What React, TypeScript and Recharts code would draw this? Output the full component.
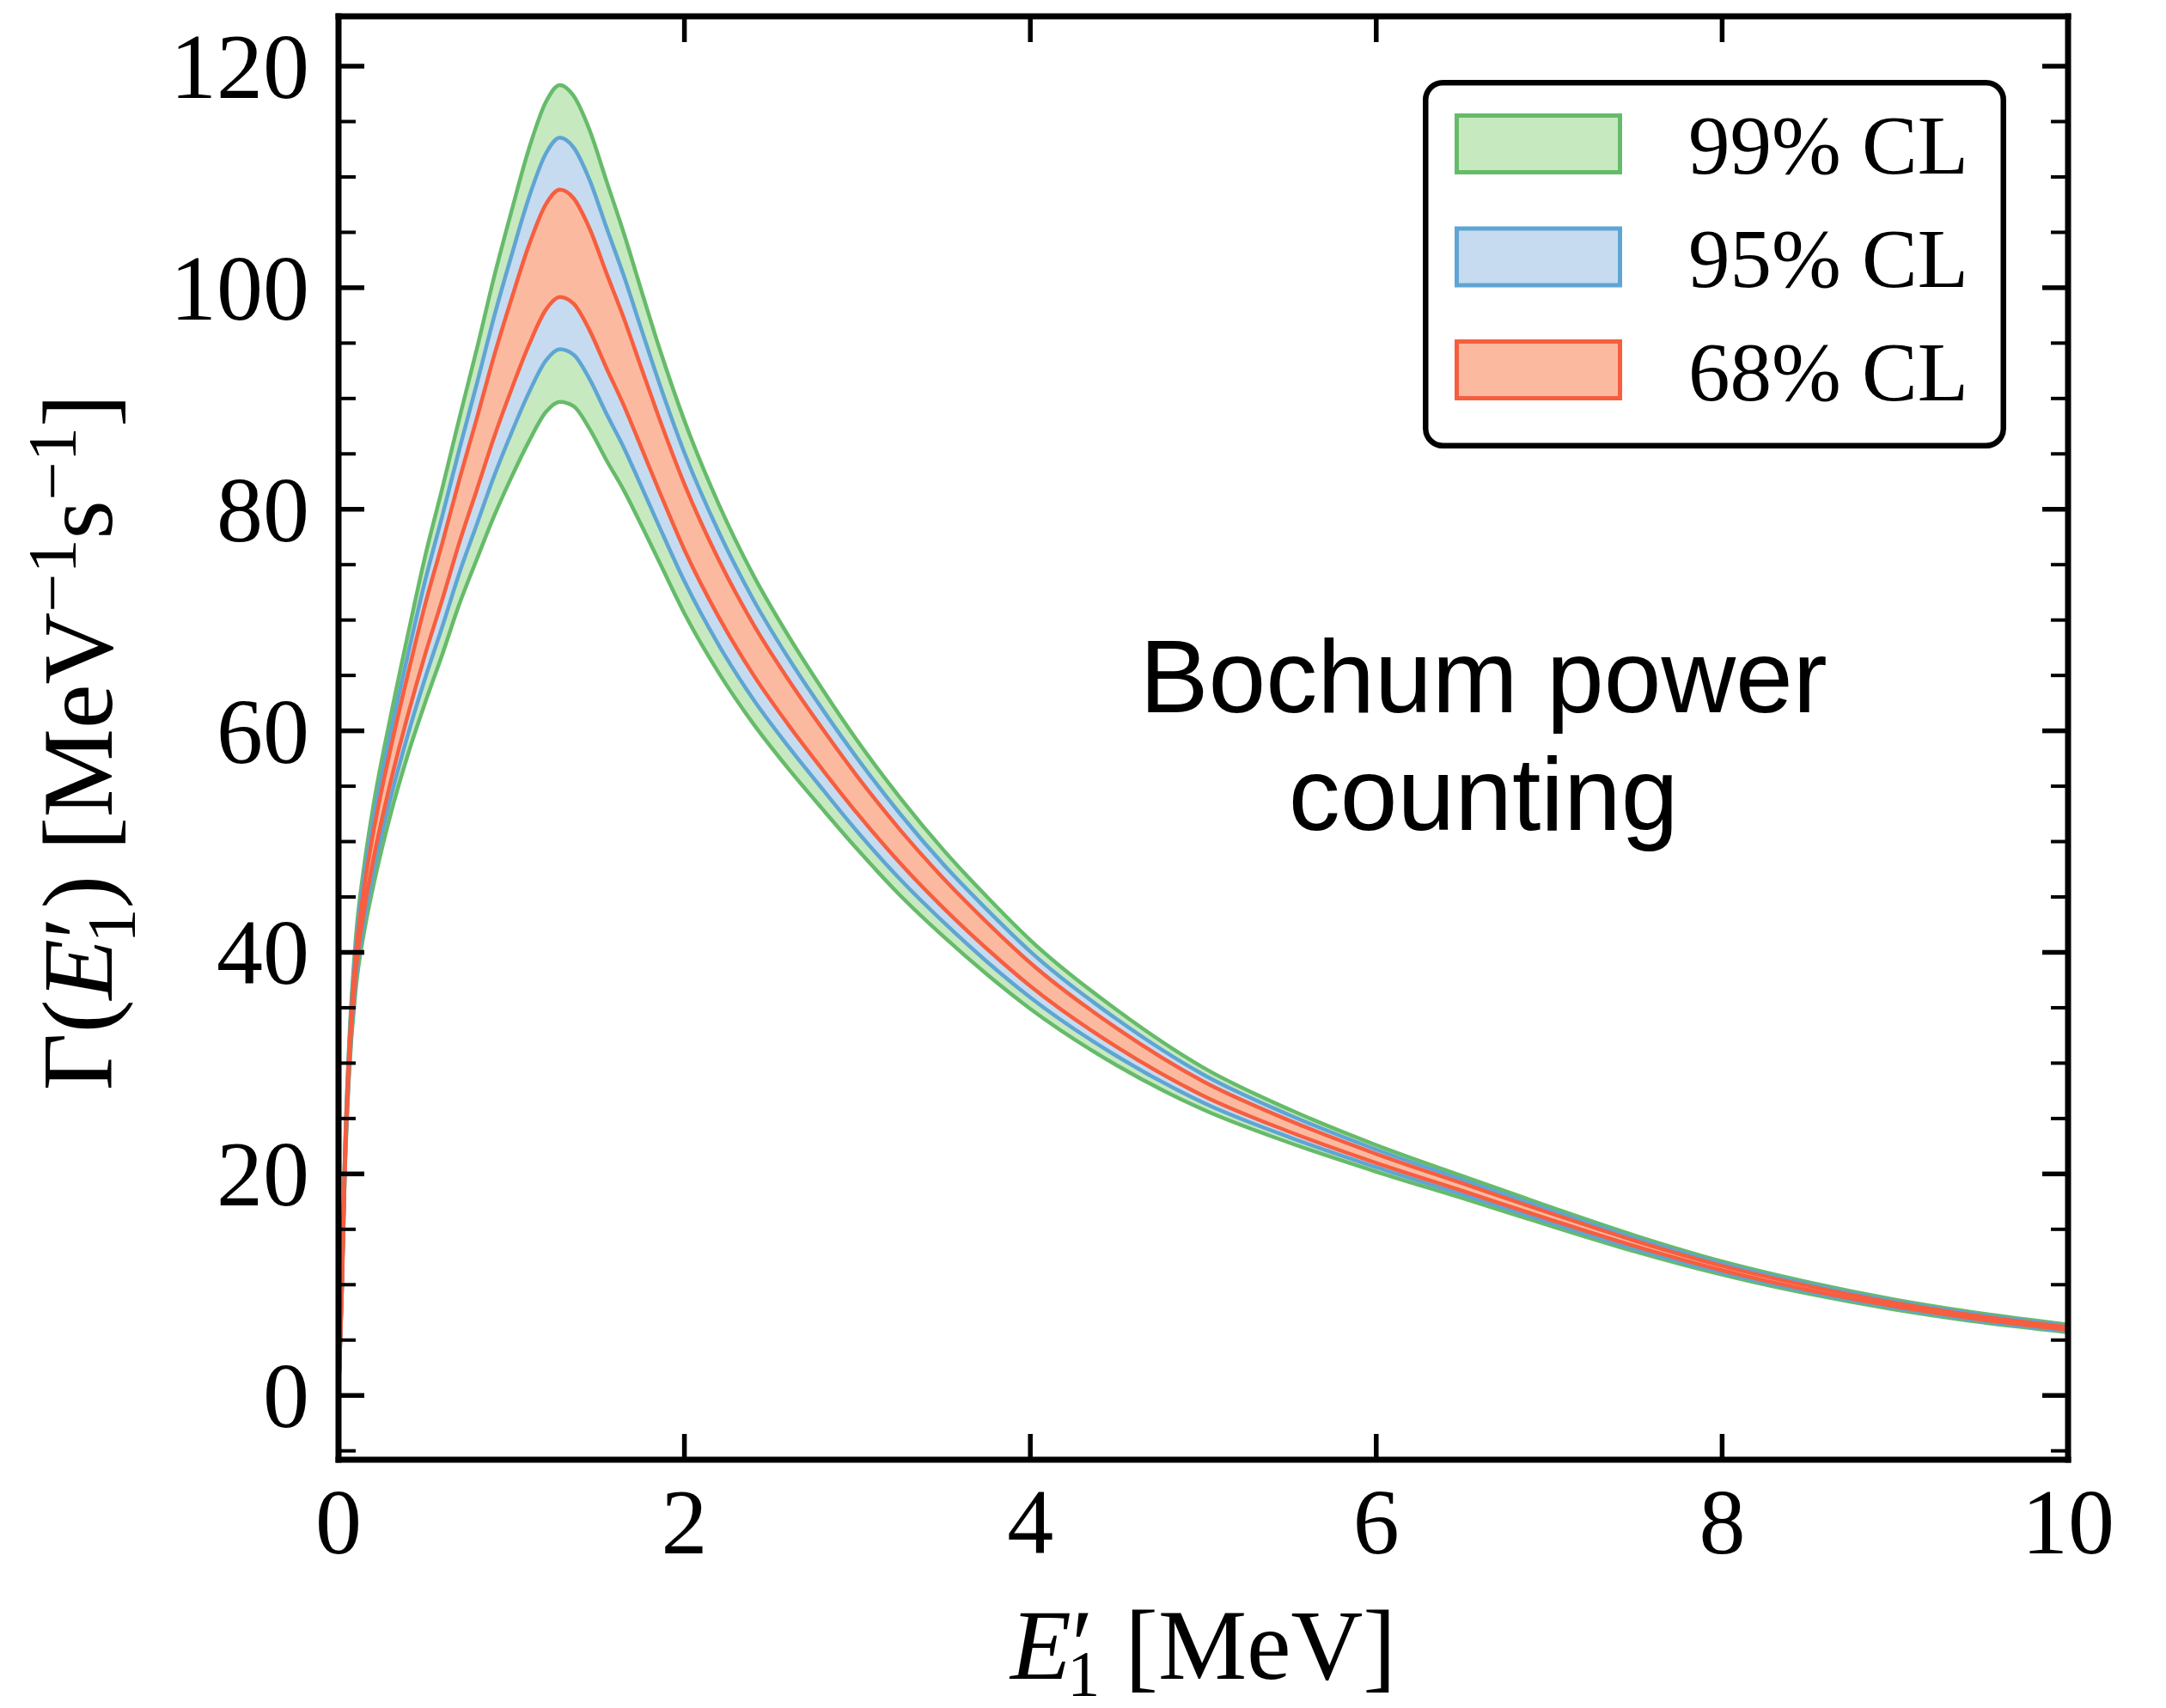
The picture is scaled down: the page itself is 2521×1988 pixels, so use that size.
import {
  ComposedChart,
  Area,
  XAxis,
  YAxis,
  Legend,
  Label,
  ReferenceDot,
} from "recharts";

// photon energy E'_1 in MeV
const ENERGY = [
  0, 0.02, 0.035, 0.06, 0.1, 0.15, 0.2, 0.3, 0.4, 0.5, 0.6, 0.7, 0.8, 0.9, 1.0,
  1.1, 1.2, 1.28, 1.36, 1.45, 1.55, 1.65, 1.75, 1.85, 2.0, 2.2, 2.4, 2.6, 2.8,
  3.0, 3.25, 3.5, 3.75, 4.0, 4.5, 5.0, 5.5, 6.0, 6.5, 7.0, 7.5, 8.0, 8.5, 9.0,
  9.5, 10,
];

// middle of the bands
const CENTRAL = [
  0, 10, 20, 30, 39, 45, 49.5, 56.8, 63.2, 69.1, 74.4, 79.9, 85, 90.2, 94.9,
  99.3, 102.8, 104, 103.3, 100.8, 97, 93.3, 89.2, 85.1, 79.3, 72.8, 67.3, 62.6,
  58.3, 54.2, 49.5, 45.3, 41.5, 38, 32.3, 27.7, 24.3, 21.4, 18.8, 16.2, 13.7,
  11.5, 9.7, 8.2, 7, 6.05,
];

// half widths of the three bands
const HALF_99 = [
  0, 0.5, 0.9, 1.4, 2.3, 3.0, 3.6, 4.4, 5.4, 6.6, 7.5, 8.4, 9.5, 10.8, 12.0,
  13.2, 14.0, 14.3, 14.0, 13.5, 12.6, 11.6, 10.6, 9.7, 8.7, 7.6, 6.7, 6.0, 5.4,
  4.9, 4.4, 3.9, 3.5, 3.1, 2.5, 1.9, 1.5, 1.2, 1.0, 0.85, 0.72, 0.6, 0.52, 0.45,
  0.4, 0.35,
];
const HALF_95 = [
  0, 0.33, 0.6, 0.94, 1.54, 2.0, 2.4, 2.94, 3.6, 4.4, 5.0, 5.6, 6.35, 7.2, 8.0,
  8.8, 9.35, 9.55, 9.35, 9.0, 8.4, 7.75, 7.1, 6.5, 5.8, 5.1, 4.5, 4.0, 3.6, 3.3,
  2.95, 2.6, 2.35, 2.07, 1.67, 1.27, 1.0, 0.8, 0.67, 0.57, 0.48, 0.4, 0.35, 0.3,
  0.27, 0.23,
];
const HALF_68 = [
  0, 0.17, 0.3, 0.48, 0.78, 1.02, 1.22, 1.5, 1.84, 2.25, 2.55, 2.85, 3.23,
  3.67, 4.08, 4.5, 4.76, 4.85, 4.76, 4.6, 4.28, 3.94, 3.6, 3.3, 2.96, 2.58,
  2.28, 2.04, 1.84, 1.67, 1.5, 1.33, 1.19, 1.05, 0.85, 0.65, 0.51, 0.41, 0.34,
  0.29, 0.24, 0.2, 0.18, 0.15, 0.14, 0.12,
];

const X_TICKS = [0, 2, 4, 6, 8, 10];
const Y_TICKS = [
  -5, 0, 5, 10, 15, 20, 25, 30, 35, 40, 45, 50, 55, 60, 65, 70, 75, 80, 85, 90,
  95, 100, 105, 110, 115, 120,
];

const BANDS = [
  { key: "cl99", name: "99% CL", stroke: "#66bb6a", fill: "#c7e9c0" },
  { key: "cl95", name: "95% CL", stroke: "#5fa5d3", fill: "#c6dbef" },
  { key: "cl68", name: "68% CL", stroke: "#f65e3f", fill: "#fbbaa0" },
];

const rows = ENERGY.map((e, i) => ({
  e,
  cl99: [CENTRAL[i] - HALF_99[i], CENTRAL[i] + HALF_99[i]],
  cl95: [CENTRAL[i] - HALF_95[i], CENTRAL[i] + HALF_95[i]],
  cl68: [CENTRAL[i] - HALF_68[i], CENTRAL[i] + HALF_68[i]],
}));

const SERIF = "'Liberation Serif', 'DejaVu Serif', serif";
const SANS = "'Liberation Sans', Arial, sans-serif";
const MAJOR = 30;
const MINOR = 20;

function LeftTick({ x, y, payload }: any) {
  const major = payload.value % 20 === 0;
  return (
    <g>
      <line x1={x} x2={x + (major ? MAJOR : MINOR)} y1={y} y2={y} stroke="#000" strokeWidth={major ? 5.5 : 4} />
      {major && (
        <text x={x - 34} y={y + 37} textAnchor="end" fontSize={108} fontFamily={SERIF} fill="#000">
          {payload.value}
        </text>
      )}
    </g>
  );
}

function RightTick({ x, y, payload }: any) {
  const major = payload.value % 20 === 0;
  return (
    <line x1={x} x2={x - (major ? MAJOR : MINOR)} y1={y} y2={y} stroke="#000" strokeWidth={major ? 5.5 : 4} />
  );
}

function BottomTick({ x, y, payload }: any) {
  return (
    <g>
      <line x1={x} x2={x} y1={y} y2={y - MAJOR} stroke="#000" strokeWidth={5.5} />
      <text x={x} y={y + 109} textAnchor="middle" fontSize={108} fontFamily={SERIF} fill="#000">
        {payload.value}
      </text>
    </g>
  );
}

function TopTick({ x, y }: any) {
  return <line x1={x} x2={x} y1={y} y2={y + MAJOR} stroke="#000" strokeWidth={5.5} />;
}

function XTitle({ viewBox }: any) {
  const cx = viewBox.x + viewBox.width / 2;
  const cy = viewBox.y + 255;
  return (
    <text x={cx} y={cy} textAnchor="middle" fontSize={116} fontFamily={SERIF} fill="#000">
      <tspan fontStyle="italic">E</tspan>
      <tspan>′</tspan>
      <tspan dx={-30} dy={20} fontSize={76}>1</tspan>
      <tspan dy={-20}> [MeV]</tspan>
    </text>
  );
}

function YTitle({ viewBox }: any) {
  const cx = viewBox.x + 130;
  const cy = viewBox.y + viewBox.height / 2 + 5;
  return (
    <text
      transform={`translate(${cx},${cy}) rotate(-90)`}
      textAnchor="middle"
      fontSize={116}
      fontFamily={SERIF}
      fill="#000"
    >
      <tspan>Γ(</tspan>
      <tspan fontStyle="italic">E</tspan>
      <tspan>′</tspan>
      <tspan dx={-30} dy={27} fontSize={80}>1</tspan>
      <tspan dy={-27}>) [MeV</tspan>
      <tspan dy={-42} fontSize={80}>−1</tspan>
      <tspan dy={42}>s</tspan>
      <tspan dy={-42} fontSize={80}>−1</tspan>
      <tspan dy={42}>]</tspan>
    </text>
  );
}

function Annotation({ viewBox }: any) {
  const x = viewBox.x + viewBox.width / 2;
  const y = viewBox.y + viewBox.height / 2;
  return (
    <text textAnchor="middle" fontSize={120} fontFamily={SANS} fill="#000">
      <tspan x={x} y={y}>Bochum power</tspan>
      <tspan x={x} y={y + 137}>counting</tspan>
    </text>
  );
}

function LegendBox() {
  return (
    <svg width={679} height={429} style={{ display: "block" }}>
      <rect x={3.25} y={3.25} width={672.5} height={422.5} rx={20} fill="#fff" stroke="#000" strokeWidth={6.5} />
      {BANDS.map((b, i) => (
        <g key={b.key}>
          <rect x={39.5} y={41.5 + i * 131.5} width={190} height={66} fill={b.fill} stroke={b.stroke} strokeWidth={5} />
          <text x={309} y={109 + i * 132} fontSize={97} fontFamily={SERIF} fill="#000">
            {b.name}
          </text>
        </g>
      ))}
    </svg>
  );
}

export default function App() {
  return (
    <div style={{ width: 2521, height: 1988, background: "#fff" }}>
      <style>{`body{margin:0;}`}</style>
      <ComposedChart
        width={2521}
        height={1988}
        data={rows}
        margin={{ top: 18, right: 113, bottom: 0, left: 0 }}
      >
        <XAxis
          dataKey="e"
          type="number"
          domain={[0, 10]}
          ticks={X_TICKS}
          interval={0}
          height={289}
          tickSize={0}
          tickMargin={0}
          tick={BottomTick}
          axisLine={{ stroke: "#000", strokeWidth: 7, strokeLinecap: "square" }}
          tickLine={false}
        >
          <Label content={XTitle} />
        </XAxis>
        <XAxis
          xAxisId="top"
          orientation="top"
          dataKey="e"
          type="number"
          domain={[0, 10]}
          ticks={X_TICKS}
          interval={0}
          height={1}
          tickSize={0}
          tickMargin={0}
          tick={TopTick}
          axisLine={{ stroke: "#000", strokeWidth: 7, strokeLinecap: "square" }}
          tickLine={false}
        />
        <YAxis
          type="number"
          domain={[-5.8, 124.5]}
          ticks={Y_TICKS}
          interval={0}
          width={394}
          tickSize={0}
          tickMargin={0}
          tick={LeftTick}
          allowDataOverflow
          axisLine={{ stroke: "#000", strokeWidth: 7, strokeLinecap: "square" }}
          tickLine={false}
        >
          <Label content={YTitle} />
        </YAxis>
        <YAxis
          yAxisId="right"
          orientation="right"
          type="number"
          domain={[-5.8, 124.5]}
          ticks={Y_TICKS}
          interval={0}
          width={1}
          tickSize={0}
          tickMargin={0}
          tick={RightTick}
          allowDataOverflow
          axisLine={{ stroke: "#000", strokeWidth: 7, strokeLinecap: "square" }}
          tickLine={false}
        />
        {BANDS.map((b) => (
          <Area
            key={b.key}
            dataKey={b.key}
            name={b.name}
            type="monotone"
            stroke={b.stroke}
            strokeWidth={4.5}
            fill={b.fill}
            fillOpacity={1}
            dot={false}
            activeDot={false}
            isAnimationActive={false}
          />
        ))}
        <ReferenceDot x={6.62} y={61.7} r={0} fill="none" stroke="none" label={<Annotation />} />
        <Legend
          layout="vertical"
          verticalAlign="middle"
          align="center"
          wrapperStyle={{ left: 1656, top: 93, width: 679, height: 429 }}
          content={() => <LegendBox />}
        />
      </ComposedChart>
    </div>
  );
}
